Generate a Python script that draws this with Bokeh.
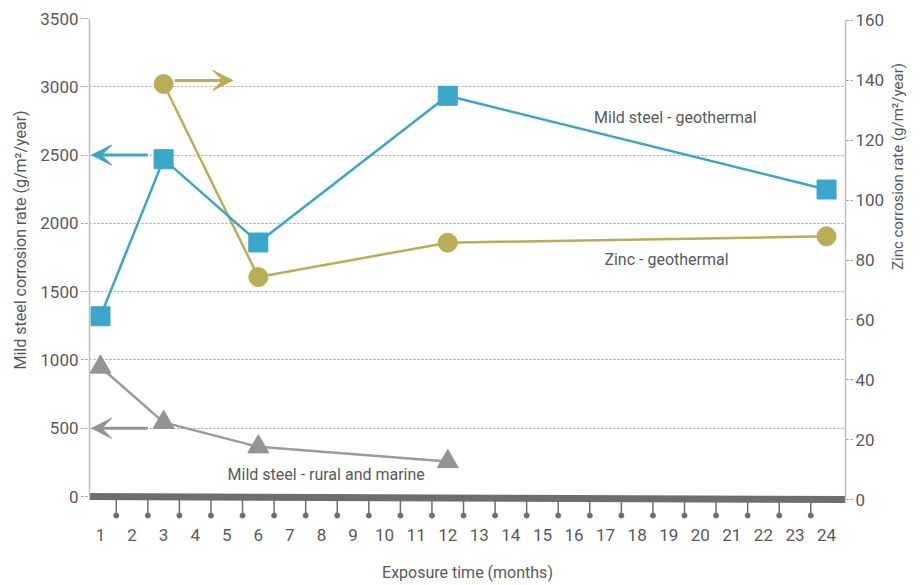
import math
from bokeh.plotting import figure
from bokeh.models import Range1d, LinearAxis, FixedTicker, Arrow, VeeHead, Label, Title
from bokeh.embed import file_html
from bokeh.resources import INLINE

# ---- data ----
months = list(range(1, 25))
steel_geo_x = [1, 3, 6, 12, 24]
steel_geo_y = [1320, 2470, 1860, 2934, 2248]
zinc_geo_x = [3, 6, 12, 24]
zinc_geo_y = [138.8, 74.3, 85.8, 87.9]
steel_rm_x = [1, 3, 6, 12]
steel_rm_y = [948, 543, 364, 256]
left_ticks = list(range(0, 3501, 500))
right_ticks = list(range(0, 161, 20))

BLUE = "#3aa6ca"
OLIVE = "#b9ad55"
GRAY_LINE = "#9b9b9d"
GRAY_MARK = "#949496"
DARK = "#6d6e71"
TEXT = "#58595b"
FONT = "Roboto"

p = figure(width=920, height=584, output_backend="svg", toolbar_location=None,
           x_range=Range1d(0.652, 24.6), y_range=Range1d(-182.7, 3500),
           min_border_left=89, min_border_right=75, min_border_top=18,
           min_border_bottom=62)
p.extra_y_ranges = {"zinc": Range1d(-7.333, 160.667)}
p.outline_line_color = None
p.background_fill_color = "white"
p.border_fill_color = "white"

# grid
p.xgrid.visible = False
p.ygrid.ticker = FixedTicker(ticks=left_ticks)
p.ygrid.grid_line_color = "#a0a0a0"
p.ygrid.grid_line_dash = "2 2"
p.ygrid.grid_line_width = 1

# left axis
ya = p.yaxis[0]
ya.ticker = FixedTicker(ticks=left_ticks)
ya.bounds = (0, 3500)
ya.axis_line_color = "#bcbec0"
ya.axis_line_width = 1.5
ya.major_tick_out = 8
ya.major_tick_in = 0
ya.major_tick_line_color = "#8a8a8a"
ya.major_tick_line_dash = "2 2"
ya.minor_tick_line_color = None
ya.major_label_text_font = FONT
ya.major_label_text_font_size = "17px"
ya.major_label_text_color = TEXT
ya.major_label_standoff = 3

# left title as a side panel so it can be shifted upward like the original
p.add_layout(Title(text="Mild steel corrosion rate (g/m²/year)", align="left", offset=152,
                   standoff=15, text_font=FONT, text_font_size="16px",
                   text_font_style="normal", text_color=TEXT), "left")

# right axis
ra = LinearAxis(y_range_name="zinc", ticker=FixedTicker(ticks=right_ticks), bounds=(0, 160))
ra.axis_line_color = "#bcbec0"
ra.axis_line_width = 1.5
ra.major_tick_out = 7
ra.major_tick_in = 0
ra.major_tick_line_color = "#8a8a8a"
ra.major_tick_line_dash = "2 2"
ra.minor_tick_line_color = None
ra.major_label_text_font = FONT
ra.major_label_text_font_size = "17px"
ra.major_label_text_color = TEXT
ra.major_label_standoff = 3
ra.axis_label = "Zinc corrosion rate (g/m²/year)"
ra.axis_label_text_font = FONT
ra.axis_label_text_font_size = "15px"
ra.axis_label_text_font_style = "normal"
ra.axis_label_text_color = TEXT
ra.axis_label_standoff = 11
try:
    ra.axis_label_orientation = math.pi / 2
except Exception:
    pass
p.add_layout(ra, "right")

# x axis
xa = p.xaxis[0]
xa.ticker = FixedTicker(ticks=months)
xa.axis_line_color = None
xa.major_tick_line_color = None
xa.minor_tick_line_color = None
xa.major_tick_out = 0
xa.major_tick_in = 0
xa.major_label_text_font = FONT
xa.major_label_text_font_size = "17px"
xa.major_label_text_color = TEXT
xa.major_label_standoff = 7
xa.axis_label = "Exposure time (months)"
xa.axis_label_text_font = FONT
xa.axis_label_text_font_size = "16px"
xa.axis_label_text_font_style = "normal"
xa.axis_label_text_color = TEXT
xa.axis_label_standoff = 19

# baseline bar and between-month tick marks
mids = [m + 0.5 for m in months[:-1]]
p.segment(x0=mids, y0=[0] * len(mids), x1=mids, y1=[-139] * len(mids),
          line_color=DARK, line_width=1.5)
p.scatter(mids, [-139] * len(mids), size=5, color=DARK)
p.segment(x0=[p.x_range.start], y0=[0], x1=[p.x_range.end], y1=[-22],
          line_color=DARK, line_width=7, line_cap="butt")

# series
p.line(steel_rm_x, steel_rm_y, line_color=GRAY_LINE, line_width=2.5)
p.scatter(steel_rm_x, steel_rm_y, marker="triangle", size=21, color=GRAY_MARK)

p.line(zinc_geo_x, zinc_geo_y, line_color=OLIVE, line_width=2.5, y_range_name="zinc")
p.scatter(zinc_geo_x, zinc_geo_y, marker="circle", size=19, color=OLIVE, y_range_name="zinc")

p.line(steel_geo_x, steel_geo_y, line_color=BLUE, line_width=2.5)
p.scatter(steel_geo_x, steel_geo_y, marker="square", size=19, color=BLUE)

# arrows indicating which axis applies
p.add_layout(Arrow(end=VeeHead(size=20, fill_color=BLUE, line_color=BLUE),
                   x_start=2.5, y_start=2500, x_end=0.72, y_end=2500,
                   line_color=BLUE, line_width=3))
p.add_layout(Arrow(end=VeeHead(size=20, fill_color=GRAY_MARK, line_color=GRAY_MARK),
                   x_start=2.5, y_start=500, x_end=0.72, y_end=500,
                   line_color=GRAY_MARK, line_width=3))
p.add_layout(Arrow(end=VeeHead(size=20, fill_color=OLIVE, line_color=OLIVE),
                   x_start=3.35, y_start=140, x_end=5.19, y_end=140,
                   line_color=OLIVE, line_width=3, y_range_name="zinc"))

# series labels
for tx, ty, txt in [(19.21, 2773, "Mild steel - geothermal"),
                    (18.93, 1732, "Zinc - geothermal"),
                    (8.15, 161, "Mild steel - rural and marine")]:
    p.add_layout(Label(x=tx, y=ty, text=txt, text_align="center", text_baseline="middle",
                       text_font=FONT, text_font_size="16px", text_color=TEXT))

open("out.html", "w").write(file_html(p, INLINE))
